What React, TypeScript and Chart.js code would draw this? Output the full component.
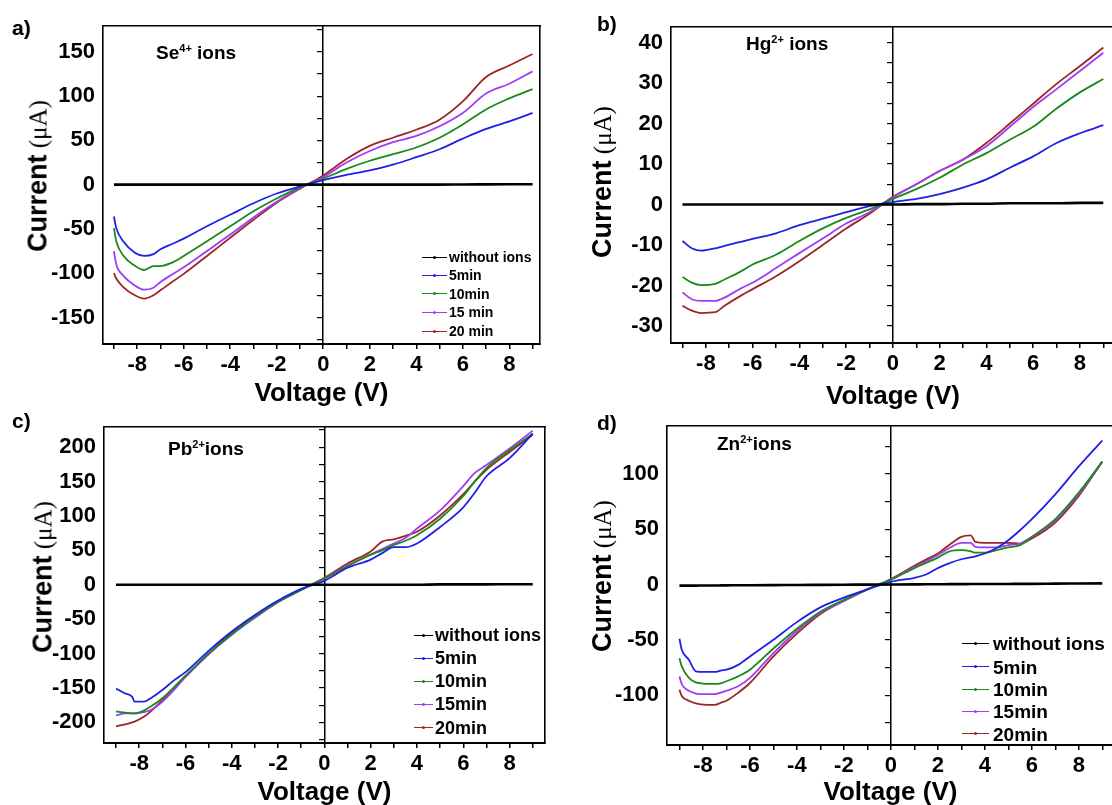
import React, { useEffect, useRef } from "react";
import { Chart, registerables } from "chart.js";

Chart.register(...registerables);

// ---------------- data ----------------
const seriesLabelsA = ["without ions", "5min", "10min", "15 min", "20 min"];
const seriesLabels = ["without ions", "5min", "10min", "15min", "20min"];
const seriesColors = ["#000000", "#1f1fe6", "#1a8a1a", "#a23cf2", "#9c2626"];

// a) Se4+ ions
const voltageA = [-9, -8.9, -8.6, -8.1, -7.7, -7.3, -7, -6.5, -6, -5, -4, -3, -2, -1, 0, 1, 2, 3, 4, 5, 6, 7, 8, 9];
const noIonsA = [0, 0, 0, 0, 0, 0, 0, 0, 0, 0, 0, 0, 0, 0, 0, 0, 0, 0, 0, 0, 0.2, 0.3, 0.4, 0.5];
const min5A = [-36, -49, -64, -77, -80.5, -78.5, -73, -67, -61, -47, -34, -21, -10, -2, 5, 11, 16, 22.6, 31, 40, 52, 63, 71.5, 81];
const min10A = [-49, -64, -80, -91.6, -96.4, -92, -92, -88, -80.5, -64, -47, -30, -15.6, -3, 6.7, 17.8, 27, 34.5, 42, 53, 68, 85, 97.5, 108];
const min15A = [-75, -90, -102.7, -113.8, -118.6, -116.4, -110, -101.5, -93.4, -75, -56.4, -37, -19.3, -4, 8.5, 25, 38, 48, 55, 66, 81, 103, 114, 128];
const min20A = [-100, -106, -115.7, -125, -128.7, -125, -119.4, -110, -100.8, -80.5, -60, -39.7, -20.4, -4.5, 10.4, 29, 43.8, 53, 62, 73.4, 94, 121.6, 134.6, 147.6];

// b) Hg2+ ions
const voltageB = [-9, -8.6, -8.2, -7.6, -7.2, -6.5, -6, -5, -4, -3, -2, -1, 0, 1, 2, 3, 4, 5, 6, 7, 8, 9];
const noIonsB = [0, 0, 0, 0, 0, 0, 0, 0, 0, 0, 0, 0, 0, 0.1, 0.1, 0.2, 0.2, 0.3, 0.3, 0.3, 0.4, 0.4];
const min5B = [-9, -10.8, -11.4, -10.8, -10.2, -9.2, -8.5, -7.1, -5.1, -3.5, -1.9, -0.4, 0.6, 1.4, 2.6, 4.2, 6.2, 9.1, 11.9, 15.2, 17.6, 19.6];
const min10B = [-17.9, -19.3, -19.9, -19.6, -18.5, -16.5, -14.8, -12.4, -9, -5.9, -3.3, -1.2, 1.4, 3.8, 6.6, 9.9, 12.7, 16, 19.2, 23.7, 27.7, 31];
const min15B = [-21.7, -23.4, -23.8, -23.8, -23, -20.7, -19.3, -15.7, -12, -8.4, -4.7, -1.9, 1.8, 5, 8.3, 11.1, 14.4, 19.2, 24.1, 28.5, 33, 37.5];
const min20B = [-25, -26.2, -26.8, -26.6, -25, -22.5, -20.9, -17.7, -14, -10, -5.9, -2.3, 1.9, 5, 8.3, 11.1, 15.2, 20, 24.9, 29.8, 34.2, 38.8];

// c) Pb2+ ions
const voltageC = [-9, -8.6, -8.3, -8.2, -7.8, -7.5, -7, -6.5, -6, -5, -4, -3, -2, -1, 0, 1, 2, 2.5, 3, 3.5, 4, 5, 6, 6.5, 7, 8, 9];
const noIonsC = [0, 0, 0, 0, 0, 0, 0, 0, 0, 0, 0, 0, 0, 0, 0, 0, 0, 0, 0, 0, 0, 0.5, 0.5, 0.5, 0.5, 0.8, 0.8];
const min5C = [-151, -158, -163, -170, -170, -165, -153, -139, -127, -96, -68, -44, -23, -6, 5.7, 24.7, 36.6, 46, 54.6, 54.6, 60, 84, 112.6, 134, 157.7, 184, 219.5];
const min10C = [-184, -186, -187, -187, -183, -177, -165, -149, -132, -100, -72, -46.6, -25, -7.6, 9, 27, 43.7, 50, 58, 64, 72, 96, 129, 150.6, 169.6, 195.7, 219.5];
const min15C = [-190, -187, -187, -187, -185, -182, -170, -153, -134, -101, -72.7, -48, -25, -7.6, 9, 28, 43.7, 52, 60, 68, 81.7, 108, 143.5, 162.5, 174, 198, 224];
const min20C = [-205.7, -203, -200, -199, -192, -184, -167.7, -150, -134, -100, -70, -46.6, -25, -7, 10, 31, 48.5, 62.7, 66, 71, 77, 100.7, 131.6, 150, 167, 193, 218];

// d) Zn2+ ions
const voltageD = [-9, -8.9, -8.6, -8.3, -8, -7.5, -7.2, -7, -6.5, -6, -5, -4, -3, -2, -1, 0, 1, 1.5, 2, 2.5, 3, 3.4, 3.6, 4, 4.5, 5, 5.5, 6, 7, 8, 9];
const noIonsD = [-1, -1, -1, -1, -0.9, -0.9, -0.8, -0.8, -0.7, -0.7, -0.6, -0.4, -0.3, -0.2, -0.1, 0, 0.1, 0.2, 0.2, 0.3, 0.3, 0.4, 0.4, 0.4, 0.5, 0.5, 0.6, 0.6, 0.8, 0.9, 1];
const min5D = [-49, -59, -68, -78.5, -79, -79, -77.5, -77, -72.6, -65, -50, -34, -20.7, -11.9, -4.4, 2.4, 6, 9, 14.8, 19.3, 22.8, 24.5, 25.5, 28, 33, 40, 49, 59, 81.5, 106.7, 130];
const min10D = [-66.7, -74, -84.4, -88.5, -89.5, -89.8, -89, -87.4, -83, -77, -57.8, -40, -24.6, -13.9, -4.4, 4.4, 14.8, 19.5, 24.3, 30, 31, 30, 28.7, 28.7, 31, 33.5, 35.6, 43, 59, 83, 111];
const min15D = [-83, -90, -96, -98.5, -99, -99, -97.5, -96, -92, -84.4, -62, -42, -25.8, -14.8, -4.4, 4.4, 16, 21, 26.7, 33, 37.6, 37.6, 34, 33.5, 33.5, 35.6, 37, 43, 57.8, 81.5, 111];
const min20D = [-95, -100.7, -105, -107.5, -108.5, -108.7, -106.5, -105, -97.8, -89, -65, -44.4, -26.7, -14.8, -4.4, 5, 17, 22.5, 28, 36, 43, 44.4, 38.5, 37.6, 37.6, 37.6, 37, 41.5, 56, 80, 111];

// ---------------- styling ----------------
const SANS = "'Liberation Sans', Arial, Helvetica, sans-serif";
const SERIF = "'Liberation Serif', 'Times New Roman', serif";

type Box = { L: number; T: number; R: number; B: number };

const Y_W = 70;
const PAD_T = 16;
const PAD_R = 12;

function IVChart(props: {
  box: Box;
  xMin: number;
  xMax: number;
  yMin: number;
  yMax: number;
  yStep: number;
  xH: number;
  voltage: number[];
  series: number[][];
  labels: string[];
}) {
  const ref = useRef<HTMLCanvasElement | null>(null);
  const { box, xMin, xMax, yMin, yMax, yStep, xH, voltage, series, labels } = props;
  const w = box.R - box.L + Y_W + PAD_R;
  const h = box.B - box.T + PAD_T + xH;

  useEffect(() => {
    if (!ref.current) return;
    const tickFont = { family: SANS, size: 22, weight: "bold" as const };
    const chart = new Chart(ref.current, {
      type: "line",
      data: {
        datasets: series.map((s, i) => ({
          label: labels[i],
          data: voltage.map((v, k) => ({ x: v, y: s[k] })),
          borderColor: seriesColors[i],
          backgroundColor: seriesColors[i],
          borderWidth: i === 0 ? 2.6 : 1.8,
          pointRadius: 0,
          fill: false,
          cubicInterpolationMode: "monotone" as const,
          borderJoinStyle: "round" as const,
          xAxisID: "x",
          yAxisID: "y",
        })),
      },
      options: {
        animation: false,
        responsive: false,
        devicePixelRatio: 1,
        layout: { padding: { left: 0, top: PAD_T, right: PAD_R, bottom: 0 } },
        plugins: { legend: { display: false }, tooltip: { enabled: false } },
        scales: {
          x: {
            type: "linear",
            axis: "x",
            position: "bottom",
            min: xMin,
            max: xMax,
            ticks: {
              stepSize: 1,
              includeBounds: false,
              autoSkip: false,
              maxRotation: 0,
              minRotation: 0,
              padding: 3,
              color: "#000",
              font: tickFont,
              callback: (v: any) => (Math.round(Number(v)) % 2 === 0 ? String(Math.round(Number(v))) : ""),
            },
            grid: { drawOnChartArea: false, drawTicks: true, tickLength: 5, color: "#000", lineWidth: 1.5 },
            border: { display: true, color: "#000", width: 2 },
            title: {
              display: true,
              text: "Voltage (V)",
              color: "#000",
              font: { family: SANS, size: 26, weight: "bold" },
              padding: { top: 0, bottom: 0 },
            },
            afterFit: (s: any) => {
              s.height = xH;
            },
          },
          y: {
            type: "linear",
            axis: "y",
            position: "left",
            min: yMin,
            max: yMax,
            ticks: {
              stepSize: yStep,
              includeBounds: false,
              autoSkip: false,
              padding: 8,
              color: "#000",
              font: tickFont,
              callback: (v: any) => {
                const n = Math.round(Number(v) * 100) / 100;
                return Math.abs(n % (2 * yStep)) < 1e-6 ? String(n) : "";
              },
            },
            grid: { display: false, drawTicks: false },
            border: { display: true, color: "#000", width: 1.6 },
            afterFit: (s: any) => {
              s.width = Y_W;
            },
          },
          yZero: {
            type: "linear",
            axis: "y",
            position: { x: 0 },
            min: yMin,
            max: yMax,
            ticks: { display: false, stepSize: yStep, includeBounds: false, autoSkip: false },
            grid: { drawOnChartArea: false, drawTicks: true, tickLength: 5, color: "#000", lineWidth: 1.2 },
            border: { display: true, color: "#000", width: 1.5 },
          },
          xTop: {
            type: "linear",
            axis: "x",
            position: "top",
            ticks: { display: false },
            grid: { display: false, drawTicks: false },
            border: { display: true, color: "#000", width: 1.6 },
          },
          yRight: {
            type: "linear",
            axis: "y",
            position: "right",
            ticks: { display: false },
            grid: { display: false, drawTicks: false },
            border: { display: true, color: "#000", width: 1.6 },
          },
        },
      } as any,
    });
    return () => chart.destroy();
  }, []);

  return (
    <canvas
      ref={ref}
      width={w}
      height={h}
      style={{
        position: "absolute",
        left: box.L - Y_W,
        top: box.T - PAD_T,
        width: w,
        height: h,
      }}
    />
  );
}

function Txt(props: { x: number; y: number; size: number; children: any; font?: string; weight?: string }) {
  return (
    <div
      style={{
        position: "absolute",
        left: props.x,
        top: props.y,
        transform: "translateY(-50%)",
        fontFamily: props.font || SANS,
        fontWeight: (props.weight || "bold") as any,
        fontSize: props.size,
        lineHeight: 1,
        whiteSpace: "nowrap",
        color: "#000",
      }}
    >
      {props.children}
    </div>
  );
}

function Sup(props: { children: any }) {
  return (
    <span style={{ fontSize: "0.58em", position: "relative", top: "-0.6em" }}>{props.children}</span>
  );
}

function YTitle(props: { cx: number; cy: number }) {
  return (
    <div
      style={{
        position: "absolute",
        left: props.cx,
        top: props.cy,
        transform: "translate(-50%, -50%) rotate(-90deg)",
        whiteSpace: "nowrap",
        lineHeight: 1,
        color: "#000",
      }}
    >
      <span style={{ fontFamily: SANS, fontWeight: "bold", fontSize: 27 }}>Current</span>
      <span style={{ fontFamily: SERIF, fontWeight: "normal", fontSize: 25 }}> (μA)</span>
    </div>
  );
}

function Legend(props: { x1: number; x2: number; tx: number; ys: number[]; labels: string[]; size: number }) {
  const { x1, x2, tx, ys, labels, size } = props;
  return (
    <>
      {labels.map((lab, i) => (
        <React.Fragment key={i}>
          <div
            style={{
              position: "absolute",
              left: x1,
              top: ys[i] - 0.5,
              width: x2 - x1,
              height: 1,
              background: seriesColors[i],
            }}
          />
          <div
            style={{
              position: "absolute",
              left: (x1 + x2) / 2 - 1.5,
              top: ys[i] - 1.5,
              width: 3,
              height: 3,
              borderRadius: 2,
              background: seriesColors[i],
            }}
          />
          <Txt x={tx} y={ys[i]} size={size}>
            {lab}
          </Txt>
        </React.Fragment>
      ))}
    </>
  );
}

export default function App() {
  return (
    <div
      style={{
        position: "absolute",
        left: 0,
        top: 0,
        width: 1112,
        height: 805,
        overflow: "hidden",
        background: "#fff",
      }}
    >
      <IVChart
        box={{ L: 103, T: 21, R: 540, B: 344 }}
        xMin={-9.47}
        xMax={9.32}
        yMin={-180}
        yMax={179}
        yStep={25}
        xH={65}
        voltage={voltageA}
        series={[noIonsA, min5A, min10A, min15A, min20A]}
        labels={seriesLabelsA}
      />
      <IVChart
        box={{ L: 671, T: 22, R: 1115, B: 343 }}
        xMin={-9.49}
        xMax={9.5}
        yMin={-34.2}
        yMax={43.8}
        yStep={5}
        xH={69}
        voltage={voltageB}
        series={[noIonsB, min5B, min10B, min15B, min20B]}
        labels={seriesLabels}
      />
      <IVChart
        box={{ L: 104, T: 422, R: 545, B: 743 }}
        xMin={-9.52}
        xMax={9.53}
        yMin={-230}
        yMax={229}
        yStep={25}
        xH={65}
        voltage={voltageC}
        series={[noIonsC, min5C, min10C, min15C, min20C]}
        labels={seriesLabels}
      />
      <IVChart
        box={{ L: 667, T: 421, R: 1114, B: 745 }}
        xMin={-9.53}
        xMax={9.5}
        yMin={-145}
        yMax={143}
        yStep={25}
        xH={63}
        voltage={voltageD}
        series={[noIonsD, min5D, min10D, min15D, min20D]}
        labels={seriesLabels}
      />

      {/* panel letters */}
      <Txt x={12} y={27} size={21}>a)</Txt>
      <Txt x={597} y={23} size={21}>b)</Txt>
      <Txt x={12} y={420} size={21}>c)</Txt>
      <Txt x={597} y={422} size={21}>d)</Txt>

      {/* in-plot titles */}
      <Txt x={156} y={52} size={19}>
        Se<Sup>4+</Sup> ions
      </Txt>
      <Txt x={746} y={43} size={19}>
        Hg<Sup>2+</Sup> ions
      </Txt>
      <Txt x={168} y={448} size={19}>
        Pb<Sup>2+</Sup>ions
      </Txt>
      <Txt x={717} y={443} size={19}>
        Zn<Sup>2+</Sup>ions
      </Txt>

      {/* y titles */}
      <YTitle cx={38} cy={176} />
      <YTitle cx={602} cy={182} />
      <YTitle cx={43} cy={577} />
      <YTitle cx={602} cy={576} />

      {/* legends */}
      <Legend x1={422} x2={447} tx={449} ys={[257, 275, 293.5, 312, 331]} labels={seriesLabelsA} size={14} />
      <Legend x1={414} x2={433} tx={435} ys={[635, 658, 681, 704, 727.5]} labels={seriesLabels} size={18} />
      <Legend x1={962} x2={989} tx={993} ys={[643, 666.5, 689, 711, 733.5]} labels={seriesLabels} size={19} />
    </div>
  );
}
